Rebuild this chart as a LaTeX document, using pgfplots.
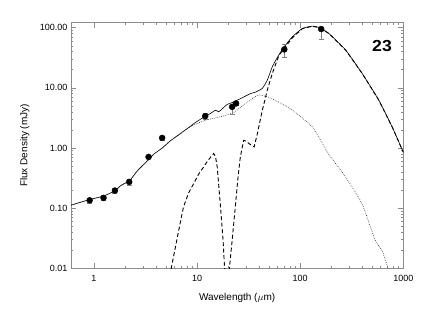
\documentclass[border=0pt]{standalone}
\usepackage{pgfplots}
\pgfplotsset{compat=1.18}
\usepackage{fontspec}
\setmainfont{Liberation Sans}
\begin{document}
\begin{tikzpicture}
\useasboundingbox (0,0) rectangle (425pt,314pt);
\begin{axis}[
  at={(71pt,45.7pt)}, anchor=south west,
  scale only axis, width=332.3pt, height=245.6pt,
  xmode=log, ymode=log,
  xmin=0.6, xmax=1000, ymin=0.01, ymax=121,
  xtick={1,10,100,1000}, xticklabels={1,10,100,1000},
  ytick={0.01,0.1,1,10,100}, yticklabels={0.01,0.10,1.00,10.00,100.00},
  tick align=inside,
  major tick length=5pt, minor tick length=2.5pt,
  axis line style={black!45, line width=0.5pt},
  every tick/.style={black!45, line width=0.5pt},
  tick label style={font=\fontsize{9}{10}\selectfont, black},
  xticklabel style={yshift=-3pt},
  label style={font=\fontsize{9}{10}\selectfont},
  xlabel={Wavelength ($\mu$m)},
  ylabel={Flux Density (mJy)},
  every axis x label/.style={at={(axis description cs:0.5,-0.12)}, anchor=center},
  every axis y label/.style={at={(axis description cs:-0.139,0.5)}, rotate=90, anchor=center},
]
% total model (solid)
\addplot[black, line width=0.6pt, smooth, tension=0.3] coordinates {
(0.6,0.112) (0.91,0.139) (1.23,0.158) (1.6,0.194) (1.81,0.235) (2.23,0.29)
(2.65,0.42) (3.2,0.58) (3.81,0.79) (4.6,1.0) (5.53,1.32) (6.9,1.74) (8.03,2.1)
(9.5,2.6) (11.6,3.25) (13.5,3.75) (15.1,4.25) (16.2,4.0) (17.5,4.45) (19.6,5.3)
(22,5.7) (26.3,6.6) (32.9,8.0) (37,8.5) (43,9.8) (48,13.4) (53.7,22.4) (62,35)
(70,48) (84,70.6) (105,97) (131,106) (152,101) (190,80) (276,42.4) (399,17.4)
(579,6.24) (780,2.24) (1000,0.85)};
% warm component (dotted)
\addplot[black!85, line width=0.6pt, dash pattern=on 0.7pt off 1.2pt, smooth, tension=0.3] coordinates {
(0.6,0.112) (0.91,0.139) (1.23,0.158) (1.6,0.194) (1.81,0.235) (2.23,0.29)
(2.65,0.42) (3.2,0.58) (3.81,0.79) (4.6,1.0) (5.53,1.32) (6.9,1.72) (8.6,2.25)
(10.8,2.7) (12.5,2.95) (15,3.15) (16.8,3.3) (19,3.5) (22.7,3.9) (28.3,5.2)
(32.9,6.24) (39.5,7.6) (47.9,7.1) (59.5,6.0) (84,4.25) (131,2.24) (190,0.78)
(276,0.33) (399,0.117) (535,0.029) (622,0.0197) (711,0.01) (800,0.004)};
% cold component (dashed)
\addplot[black, line width=0.9pt, dash pattern=on 4pt off 2.5pt] coordinates {
(5.3,0.006) (5.74,0.012) (6.9,0.059) (7.4,0.105) (8.3,0.18) (9.3,0.257) (10.4,0.37)
(11.6,0.485) (12.6,0.6) (13.5,0.70) (14.5,0.81) (15.1,0.72) (15.7,0.485)
(16.9,0.105) (17.9,0.029) (18.5,0.01) (19.5,0.004) (20.6,0.01) (21.9,0.029)
(23.5,0.105) (25,0.33) (26.3,0.71) (28.3,1.34) (30,1.30) (32,1.18) (35.8,1.04)
(38.5,1.74) (41,2.9) (43,4.25) (48,9.15) (53.7,17.4) (62.4,35) (70,45) (84,68)
(105,96) (131,105.5) (152,100.5) (190,80) (276,42.4) (399,17.4) (579,6.24)
(780,2.24) (1000,0.85)};
% observed photometry
\addplot[only marks, mark=*, mark size=3pt, black,
  error bars/.cd, y dir=both, y explicit,
  error bar style={black!50, line width=0.5pt},
  error mark options={black!50, mark size=2.5pt, rotate=90}]
  table[x=x, y=y, y error plus=ep, y error minus=em] {
x y ep em
0.91 0.135 0.014 0.014
1.24 0.148 0.014 0.014
1.60 0.196 0.022 0.022
2.20 0.273 0.035 0.035
3.39 0.71 0.04 0.04
4.59 1.47 0.12 0.12
12.0 3.38 0.35 0.35
21.9 4.83 0.3 1.2
23.9 5.5 0.3 0.3
70.2 43.5 9 11
160 94.9 0 30
};
\node[font=\fontsize{16}{16}\selectfont\bfseries, xscale=1.1] at (axis description cs:0.936,0.904) {23};
\end{axis}
\end{tikzpicture}
\end{document}
